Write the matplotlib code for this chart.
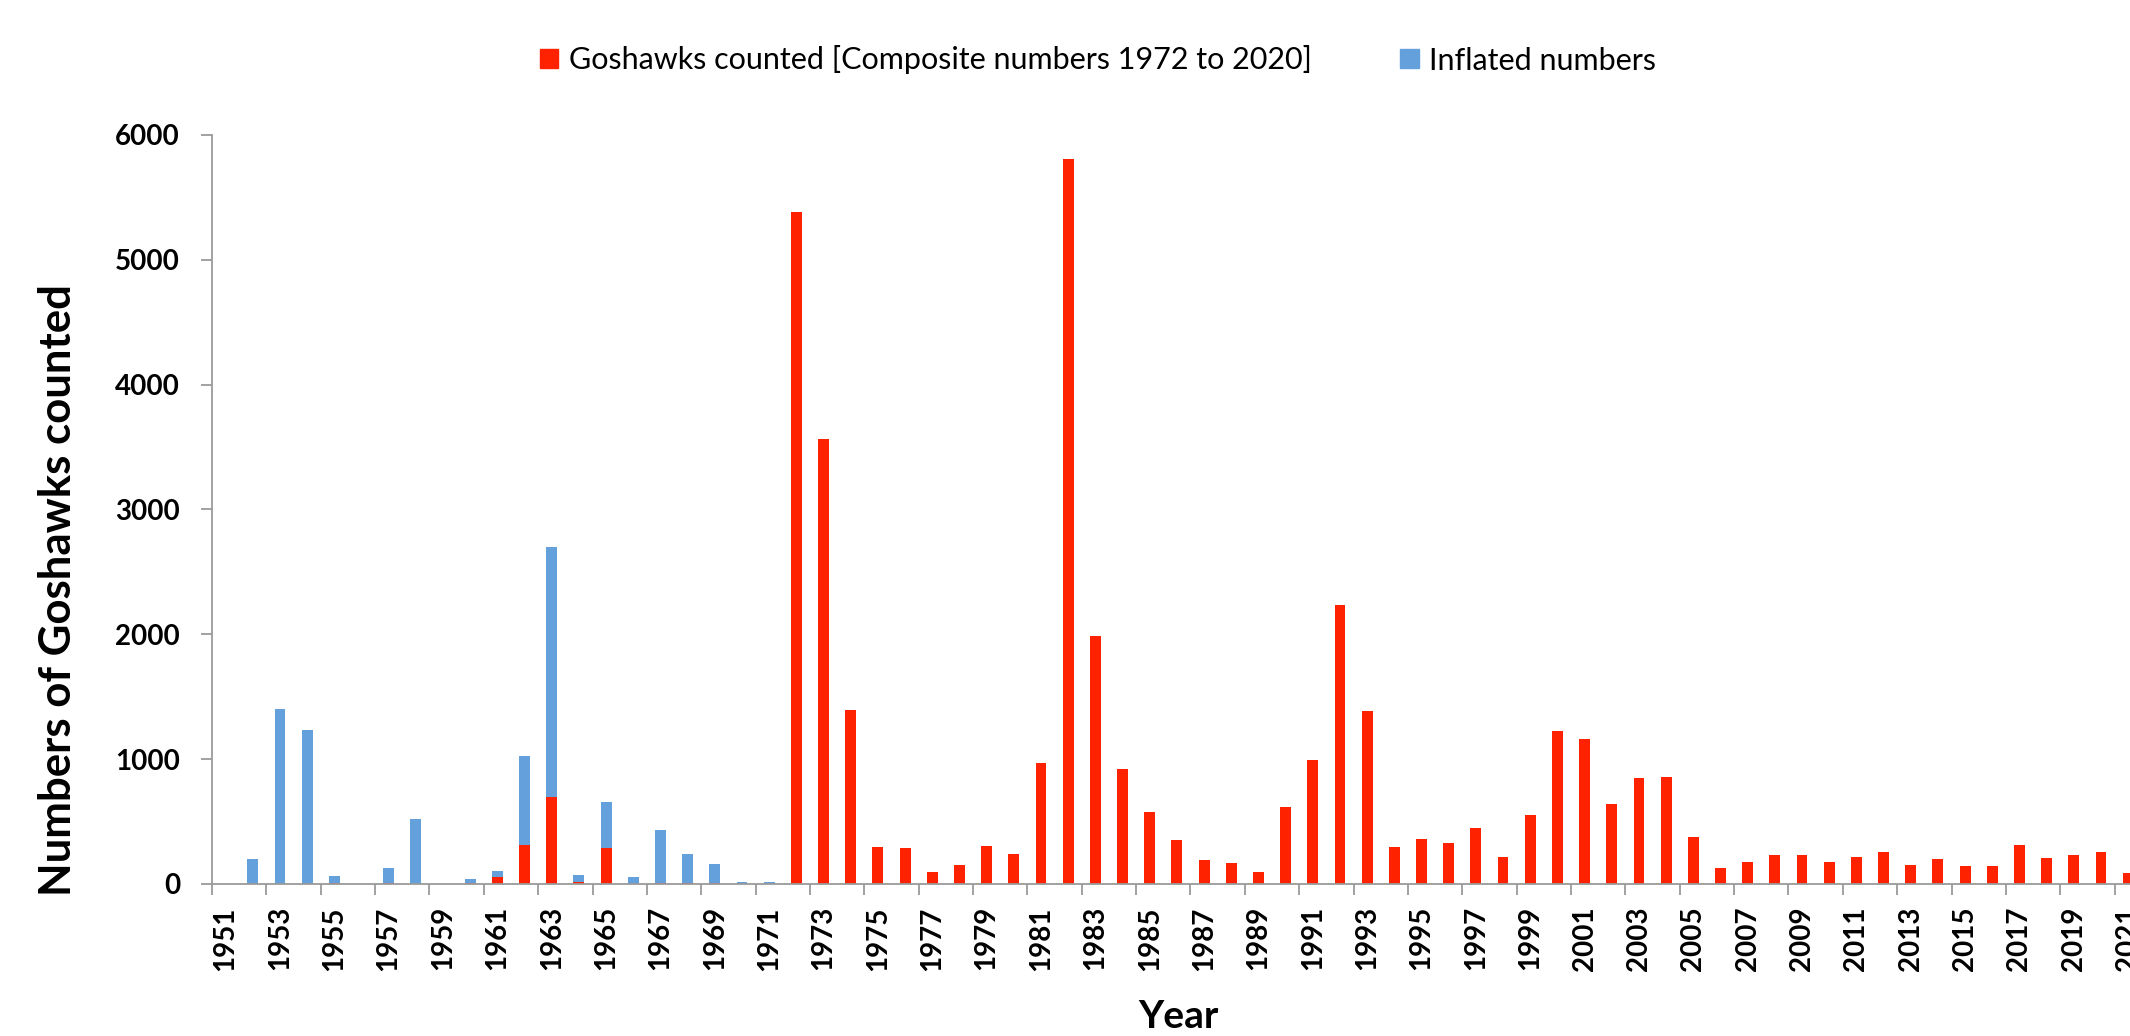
import numpy as np
import matplotlib

matplotlib.use('Agg')
import matplotlib.pyplot as plt
from matplotlib.patches import Patch

plt.rcParams['font.family'] = ['Lato', 'DejaVu Sans']

years = list(range(1951, 2022))

# red part: goshawks counted (composite numbers 1972 to 2020)
counted = [0, 0, 0, 0, 10, 0, 5, 0, 0, 5,
           60, 315, 700, 20, 285, 0, 5, 10, 10, 0,
           0, 5380, 3565, 1395, 300, 290, 97, 155, 308, 238,
           968, 5810, 1990, 925, 578, 350, 195, 170, 100, 615,
           995, 2235, 1383, 295, 357, 330, 445, 215, 550, 1225,
           1162, 642, 852, 858, 380, 130, 180, 236, 230, 175,
           220, 254, 150, 204, 142, 142, 316, 210, 230, 257,
           88]

# blue part stacked on top: inflated numbers
inflated = [0, 197, 1398, 1237, 55, 0, 122, 522, 0, 33,
            42, 707, 1998, 53, 370, 53, 428, 232, 150, 20,
            20] + [0] * 50

RED = '#FF2200'
BLUE = '#64A0DC'
GREY = '#9A9A9A'

W, H = 2130, 1036
fig = plt.figure(figsize=(W / 100, H / 100), dpi=100)

cat_px = 27.18
n_cats = 72
ax = fig.add_axes([212 / W, 1 - 884 / H, n_cats * cat_px / W, (884 - 135) / H])

x = np.arange(len(years))
ax.bar(x, counted, width=0.4, color=RED, label='Goshawks counted [Composite numbers 1972 to 2020]')
ax.bar(x, inflated, width=0.4, bottom=counted, color=BLUE, label='Inflated numbers')

ax.set_xlim(-0.5, n_cats - 0.5)
ax.set_ylim(0, 6000)
ax.set_yticks(range(0, 6001, 1000))

ax.set_xticks(x[::2])
ax.set_xticklabels([str(y) for y in years[::2]], rotation=90, fontweight='bold', fontsize=20)
ax.set_xticks(np.arange(-0.5, n_cats, 2), minor=True)
ax.tick_params(axis='x', which='major', length=0, pad=16)
ax.tick_params(axis='x', which='minor', length=8, width=1.3, color=GREY)
ax.tick_params(axis='y', length=8, width=1.3, color=GREY, pad=15, labelsize=20)
for lab in ax.get_yticklabels():
    lab.set_fontweight('bold')

for s in ['top', 'right']:
    ax.spines[s].set_visible(False)
for s in ['left', 'bottom']:
    ax.spines[s].set_color(GREY)
    ax.spines[s].set_linewidth(1.3)

fig.text(58 / W, 1 - 590 / H, 'Numbers of Goshawks counted', rotation=90,
         ha='center', va='center', fontsize=31.5, fontweight='bold')
fig.text(1178 / W, 1 - 1017 / H, 'Year', ha='center', va='center',
         fontsize=28, fontweight='bold')

handles = [Patch(color=RED), Patch(color=BLUE)]
fig.legend(handles, ['Goshawks counted [Composite numbers 1972 to 2020]', 'Inflated numbers'],
           loc='center', bbox_to_anchor=(1098 / W, 1 - 60 / H), ncol=2, frameon=False,
           fontsize=22, handlelength=0.6, handleheight=0.6, handletextpad=0.35,
           columnspacing=2.9)

fig.savefig('out.png', dpi=100)
plt.close(fig)
